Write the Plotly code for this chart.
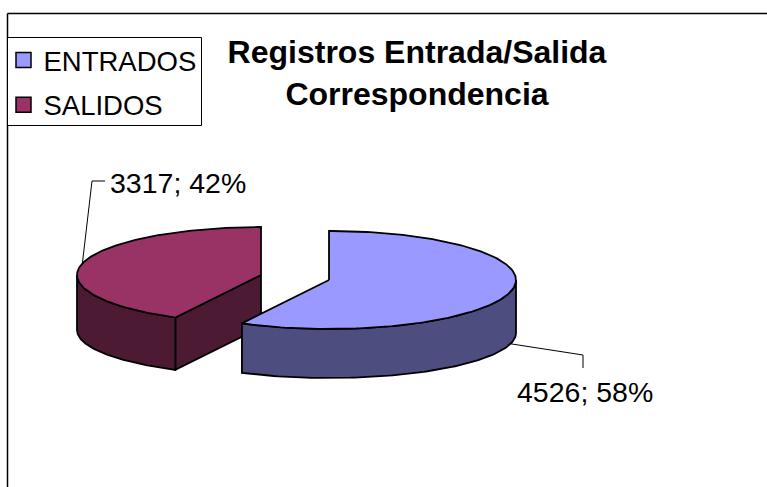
import numpy as np
import plotly.graph_objects as go

categories = ["ENTRADOS", "SALIDOS"]
values = [4526, 3317]
top_colors = ["#9999FF", "#993366"]
wall_colors = ["#4D4D80", "#4D1A33"]
title_lines = ["Registros Entrada/Salida", "Correspondencia"]

W, H = 767, 487
FONT = "Liberation Sans"
total = sum(values)
fractions = [v / total for v in values]
spans = [(0.0, fractions[0] * 360.0), (fractions[0] * 360.0, 360.0)]

# projected pie geometry (pixels)
apex = [(329.0, 280.0), (261.0, 275.0)]
rx = [187.0, 184.0]
ry = [49.0, 48.0]
depth = [53.0, 55.0]
ry_bottom = 45.0


def rim(i, deg, lower=False):
    t = np.radians(deg)
    cx, cy = apex[i]
    dy_top = -ry[i] * np.cos(t)
    x = cx + rx[i] * np.sin(t)
    if lower:
        y = cy + depth[i] - ry_bottom * np.cos(t)
    else:
        y = cy + dy_top
    return x, y


def poly(fig, xs, ys, color, name=None, lw=1.8):
    fig.add_trace(go.Scatter(x=xs, y=ys, mode="lines", fill="toself", fillcolor=color,
                             line=dict(color="black", width=lw), hoverinfo="skip",
                             showlegend=False, name=name))


fig = go.Figure()
# SALIDOS is painted first: it sits behind ENTRADOS
for i in (1, 0):
    a0, a1 = spans[i]
    cx, cy = apex[i]
    vis0, vis1 = max(a0, 90.0), min(a1, 270.0)
    t = np.linspace(vis0, vis1, 90)
    xt, yt = rim(i, t)
    xb, yb = rim(i, t, lower=True)
    if i == 1:
        # cut face from the apex out to the front tip
        tx, ty = rim(i, a0)
        txb, tyb = rim(i, a0, lower=True)
        slope = (ty - cy) / (tx - cx)
        bottom_apex_y = tyb - slope * (tx - cx)
        poly(fig, [cx, tx, txb, cx, cx], [cy, ty, tyb, bottom_apex_y, cy], wall_colors[i])
    poly(fig, list(xt) + list(xb[::-1]) + [xt[0]], list(yt) + list(yb[::-1]) + [yt[0]], wall_colors[i])
    t = np.linspace(a0, a1, 180)
    xs, ys = rim(i, t)
    poly(fig, [cx] + list(xs) + [cx], [cy] + list(ys) + [cy], top_colors[i], name=categories[i])

# legend entries
for i, cat in enumerate(categories):
    fig.add_trace(go.Scatter(x=[None], y=[None], mode="markers", name=cat, legendgroup=cat,
                             marker=dict(symbol="square", size=15, color=top_colors[i],
                                         line=dict(color="black", width=1.5))))

# data labels + leader lines, anchored at the middle of each slice
label_pos = [(584.5, 392), (178, 183)]
elbows = [[(583, 355), (583, 368)], [(92, 181), (105, 181)]]
for i, v in enumerate(values):
    mid = sum(spans[i]) / 2
    ax, ay = rim(i, mid, lower=(i == 0))
    lx = [ax] + [p[0] for p in elbows[i]]
    ly = [ay] + [p[1] for p in elbows[i]]
    fig.add_trace(go.Scatter(x=lx, y=ly, mode="lines", line=dict(color="black", width=1),
                             hoverinfo="skip", showlegend=False))
    fig.add_annotation(x=label_pos[i][0], y=label_pos[i][1], xref="x", yref="y", showarrow=False,
                       text=f"{v}; {round(100 * v / total)}%",
                       font=dict(family=FONT, size=28.5, color="black"))

fig.update_layout(
    width=W, height=H, margin=dict(l=0, r=0, t=0, b=0),
    paper_bgcolor="white", plot_bgcolor="white",
    title=dict(text="<br>".join(title_lines), x=417 / W, xref="paper", xanchor="center",
               y=1 - 63 / H, yref="paper", yanchor="middle",
               font=dict(family=FONT, size=32, color="black", weight="bold")),
    xaxis=dict(range=[0, W], visible=False, fixedrange=True),
    yaxis=dict(range=[H, 0], visible=False, fixedrange=True),
    legend=dict(x=3.5 / W, y=1 - 35.5 / H, xanchor="left", yanchor="top",
                bgcolor="rgba(0,0,0,0)", borderwidth=0,
                font=dict(family=FONT, size=27.5, color="black"),
                tracegroupgap=6, itemsizing="trace", itemclick=False, itemdoubleclick=False),
    shapes=[
        dict(type="line", xref="paper", yref="paper", x0=7.5 / W, x1=1, y0=1 - 13.5 / H, y1=1 - 13.5 / H,
             line=dict(color="black", width=1.5), layer="below"),
        dict(type="line", xref="paper", yref="paper", x0=7.5 / W, x1=7.5 / W, y0=0, y1=1 - 13.5 / H,
             line=dict(color="black", width=1.5), layer="below"),
        dict(type="rect", xref="paper", yref="paper", x0=7.5 / W, x1=201.5 / W, y0=1 - 37.5 / H, y1=1 - 125.5 / H,
             line=dict(color="black", width=1), fillcolor="white", layer="below"),
    ],
)
fig.write_html("out.html", config={"displayModeBar": False},
               post_script="document.body.style.margin='0';document.body.style.overflow='hidden';")
